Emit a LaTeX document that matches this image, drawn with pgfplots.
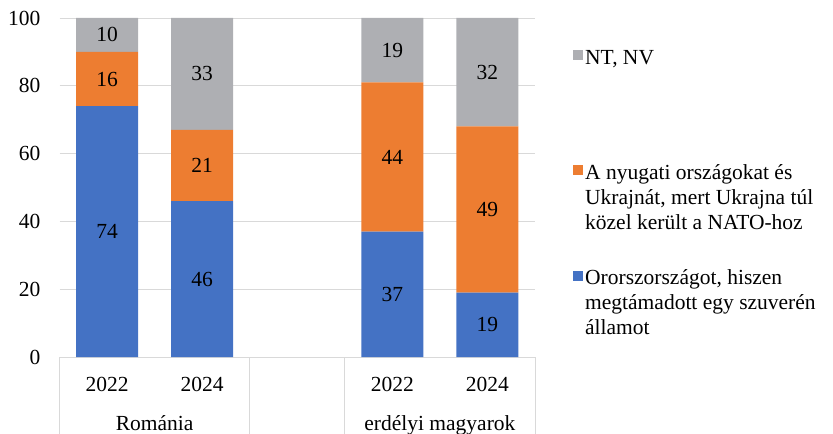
\documentclass[border=0pt]{standalone}
\usepackage{pgfplots}
\pgfplotsset{compat=1.18}
\usepackage{fontspec}
\setmainfont{Liberation Serif}
\newfontfamily\lserif{Liberation Serif}
\definecolor{cblue}{HTML}{4472C4}
\definecolor{corange}{HTML}{ED7D31}
\definecolor{cgray}{HTML}{AEAFB3}
\definecolor{cgrid}{HTML}{D9D9D9}
\newcommand\ff{\lserif\fontsize{21.5bp}{25bp}\selectfont}
\begin{document}
\ff
\begin{tikzpicture}[font=\ff]
\begin{axis}[
  at={(59.5bp,77bp)}, anchor=south west,
  width=475.5bp, height=339bp, scale only axis,
  ybar stacked, bar width=62bp,
  xmin=-0.5, xmax=4.5, ymin=0, ymax=100,
  xtick={0,1,3,4}, xticklabels={2022,2024,2022,2024},
  ytick={0,20,...,100},
  ymajorgrids, grid style={cgrid, line width=0.75bp},
  axis line style={draw=none},
  major tick length=0pt,
  /pgf/number format/assume math mode=true,
  tick label style={font=\ff},
  yticklabel style={inner sep=0pt, xshift=-19bp},
  xticklabel style={anchor=base, inner sep=0pt, yshift=-34bp},
  clip=false,
  nodes near coords={\pgfmathprintnumber{\rawy}},
  visualization depends on=rawy \as \rawy,
  every node near coord/.append style={anchor=center, text=black, font=\ff},
  legend style={draw=none, fill=none, at={(1,1)}, anchor=north west, xshift=38bp, yshift=-30bp, inner sep=0pt, row sep=33bp, font=\ff, nodes={anchor=base west, align=left}},
  legend cell align=left,
  reverse legend,
]
\addplot[fill=cblue, draw=none, legend image code/.code={\fill[cblue] (0bp,54bp) rectangle (10bp,64bp);}] coordinates {(0,74) (1,46) (3,37) (4,19)};
\addlegendentry{Ororszországot, hiszen\\megtámadott egy szuverén\\államot}
\addplot[fill=corange, draw=none, legend image code/.code={\fill[corange] (0bp,54bp) rectangle (10bp,64bp);}] coordinates {(0,16) (1,21) (3,44) (4,49)};
\addlegendentry{\rule{0pt}{75bp}A nyugati országokat és\\Ukrajnát, mert Ukrajna túl\\közel került a NATO-hoz}
\addplot[fill=cgray, draw=none, legend image code/.code={\fill[cgray] (0bp,4bp) rectangle (10bp,14bp);}] coordinates {(0,10) (1,33) (3,19) (4,32)};
\addlegendentry{NT, NV}
\foreach \xx in {-0.5,1.5,2.5,4.5}{
  \edef\tmp{\noexpand\draw[cgrid, line width=0.75bp] (axis cs:\xx,0) -- ++(0bp,-77bp);}\tmp
}
\node[anchor=base] at ([yshift=-73bp]axis cs:0.5,0) {Románia};
\node[anchor=base] at ([yshift=-73bp]axis cs:3.5,0) {erdélyi magyarok};
\end{axis}
\pgfresetboundingbox
\path (0,0) rectangle (833bp,434bp);
\end{tikzpicture}
\end{document}
